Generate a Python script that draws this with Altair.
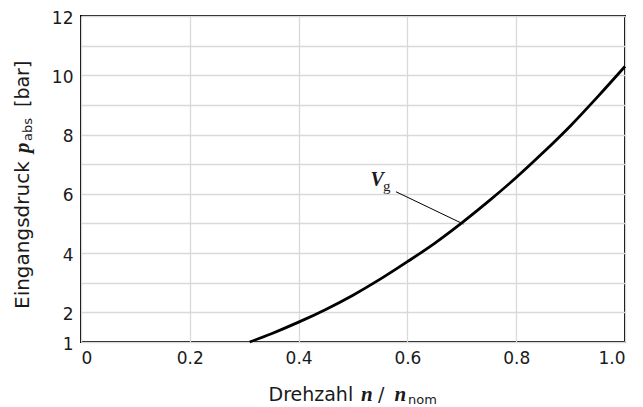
import altair as alt
import pandas as pd

# ---- data ----
n_ratio = [0.31, 0.35, 0.40, 0.45, 0.50, 0.55, 0.60, 0.65, 0.70, 0.75, 0.80, 0.85, 0.90, 0.95, 1.00]
p_abs = [1.0, 1.28, 1.67, 2.1, 2.58, 3.12, 3.71, 4.33, 5.02, 5.76, 6.55, 7.4, 8.3, 9.28, 10.3]

x_ticks = [0, 0.2, 0.4, 0.6, 0.8, 1.0]
y_grid = list(range(1, 13))
y_labels = [1, 2, 4, 6, 8, 10, 12]

leader_n = [0.579, 0.703]
leader_p = [6.07, 4.98]

ann_main = "V"
ann_main_pos = (0.532, 6.265)
ann_sub = "g"
ann_sub_pos = (0.555, 6.096)

SANS = "DejaVu Sans"
SERIF = "Liberation Serif"
TXT = "#1a1a1a"
PLOT_L, PLOT_T = 81, 16  # page offset of the plot area

curve_df = pd.DataFrame({"n": n_ratio, "p": p_abs})
leader_df = pd.DataFrame({"n": leader_n, "p": leader_p})

X = alt.X(
    "n:Q",
    scale=alt.Scale(domain=[0, 1], nice=False, zero=False),
    axis=alt.Axis(
        values=x_ticks, title=None, ticks=False, domain=False, grid=True,
        gridColor="#d9d9d9", gridWidth=1.3,
        labelExpr="datum.value == 0 ? '0' : format(datum.value, '.1f')",
        labelFont=SANS, labelFontSize=17, labelColor=TXT, labelPadding=8,
    ),
)
Y = alt.Y(
    "p:Q",
    scale=alt.Scale(domain=[1, 12], nice=False, zero=False),
    axis=alt.Axis(
        values=y_grid, title=None, ticks=False, domain=False, grid=True,
        gridColor="#d9d9d9", gridWidth=1.3,
        labelExpr="indexof(" + str(y_labels) + ", datum.value) >= 0 ? datum.label : ''",
        labelFont=SANS, labelFontSize=17, labelColor=TXT, labelPadding=8,
        labelOffset=2,
    ),
)

curve = alt.Chart(curve_df).mark_line(
    color="#000000", strokeWidth=2.8, interpolate="monotone"
).encode(x=X, y=Y)

leader = alt.Chart(leader_df).mark_line(color="#000000", strokeWidth=1).encode(x=X, y=Y)

ann1 = alt.Chart(pd.DataFrame({"n": [ann_main_pos[0]], "p": [ann_main_pos[1]]})).mark_text(
    text=ann_main, font=SERIF, fontStyle="italic", fontWeight="bold", fontSize=20,
    align="left", baseline="alphabetic", color=TXT,
).encode(x=X, y=Y)
ann2 = alt.Chart(pd.DataFrame({"n": [ann_sub_pos[0]], "p": [ann_sub_pos[1]]})).mark_text(
    text=ann_sub, font=SERIF, fontSize=15, align="left", baseline="alphabetic", color=TXT,
).encode(x=X, y=Y)


def piece(text, px, py, font=SANS, size=20, style="normal", weight="normal", angle=0):
    return alt.Chart(alt.Data(values=[{"k": 1}])).mark_text(
        text=text, font=font, fontSize=size, fontStyle=style, fontWeight=weight,
        align="left", baseline="alphabetic", angle=angle, color=TXT,
    ).encode(x=alt.value(px - PLOT_L), y=alt.value(py - PLOT_T))


# x-axis title: Drehzahl n / n_nom
xt = [
    piece("Drehzahl", 268.5, 401, size=19),
    piece("n", 361, 401, font=SERIF, size=21, style="italic", weight="bold"),
    piece("/", 378, 401, size=19),
    piece("n", 394.5, 401, font=SERIF, size=21, style="italic", weight="bold"),
    piece("nom", 408, 403.5, size=13),
]
# y-axis title (rotated): Eingangsdruck p_abs [bar]
yt = [
    piece("Eingangsdruck", 28.5, 309, angle=270),
    piece("p", 28.5, 153, font=SERIF, size=21, style="italic", weight="bold", angle=270),
    piece("abs", 31.5, 141, size=13, angle=270),
    piece("[bar]", 28.5, 107, size=19, angle=270),
]

chart = alt.layer(curve, leader, ann1, ann2, *xt, *yt).properties(
    width=544, height=326,
    padding={"left": 73, "top": 8, "right": 10, "bottom": 63},
    autosize=alt.AutoSizeParams(type="none"),
).configure_view(stroke="#000000", strokeWidth=2)

chart.save("out.html", embed_options={"renderer": "svg", "actions": False})
